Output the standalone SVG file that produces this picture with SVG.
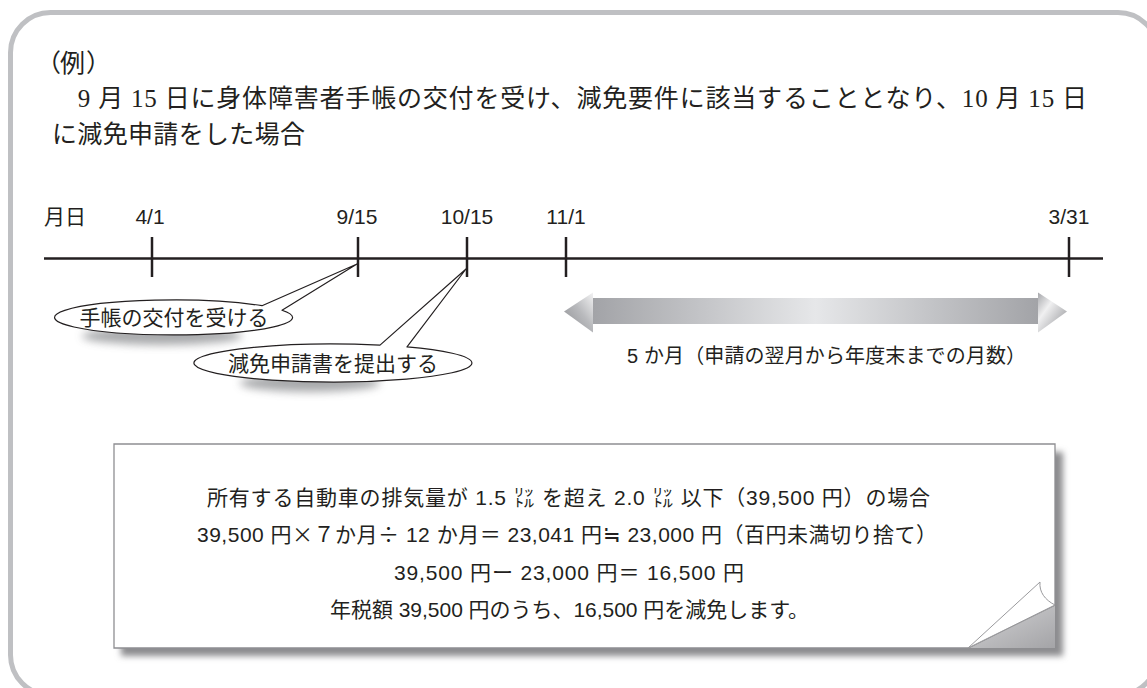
<svg xmlns="http://www.w3.org/2000/svg" width="1147" height="688" viewBox="0 0 1147 688">
<style>
.serif{font-family:"Liberation Serif","Noto Sans CJK JP",serif;font-size:25px;fill:#231f20}
.sans{font-family:"Liberation Sans","Noto Sans CJK JP",sans-serif;fill:#231f20}
.cjk{font-family:"Noto Sans CJK JP",sans-serif}
.tl{font-size:21px;text-anchor:middle}
.call{font-size:21px;text-anchor:middle}
.note{font-size:21px}
.axis{stroke:#231f20;stroke-width:2.5;fill:none}
.bubble{fill:#fff;stroke:#231f20;stroke-width:1.2;stroke-linejoin:round}
</style>
<defs>
<filter id="blur4" x="-20%" y="-50%" width="140%" height="200%"><feGaussianBlur stdDeviation="4"/></filter>
<filter id="blur3" x="-5%" y="-10%" width="110%" height="120%"><feGaussianBlur stdDeviation="3"/></filter>
<linearGradient id="barG" x1="0" y1="0" x2="1" y2="0">
<stop offset="0" stop-color="#a2a3a7"/>
<stop offset="0.5" stop-color="#e6e7e9"/>
<stop offset="1" stop-color="#a2a3a7"/>
</linearGradient>
<linearGradient id="headL" x1="1" y1="0" x2="0" y2="1">
<stop offset="0" stop-color="#f2f2f3"/>
<stop offset="0.45" stop-color="#b9babd"/>
<stop offset="1" stop-color="#8d8e92"/>
</linearGradient>
<linearGradient id="headR" x1="0" y1="0" x2="1" y2="1">
<stop offset="0" stop-color="#a6a7ab"/>
<stop offset="0.35" stop-color="#f0f0f1"/>
<stop offset="1" stop-color="#8d8e92"/>
</linearGradient>
<linearGradient id="foldG" x1="0" y1="0" x2="1" y2="1">
<stop offset="0" stop-color="#d4d4d6"/>
<stop offset="1" stop-color="#a4a4a7"/>
</linearGradient>
</defs>

<rect width="1147" height="688" fill="#fff"/>
<rect id="frame" x="10.5" y="12.5" width="1147.5" height="682.5" rx="40" fill="#fff" stroke="#bfc0c3" stroke-width="5"/>

<g id="intro">
<text class="serif" y="72"><tspan x="36">（</tspan><tspan x="60">例</tspan><tspan x="86">）</tspan></text>
<text class="serif" x="52" y="107" textLength="1035" lengthAdjust="spacing">　9 月 15 日に身体障害者手帳の交付を受け、減免要件に該当することとなり、10 月 15 日</text>
<text class="serif" x="52" y="143" textLength="253" lengthAdjust="spacing">に減免申請をした場合</text>
</g>

<g id="timeline">
<line class="axis" x1="44" y1="258.5" x2="1103" y2="258.5"/>
<line class="axis" x1="152" y1="237" x2="152" y2="277"/>
<line class="axis" x1="358" y1="237" x2="358" y2="277"/>
<line class="axis" x1="467" y1="237" x2="467" y2="277"/>
<line class="axis" x1="566" y1="237" x2="566" y2="277"/>
<line class="axis" x1="1069" y1="237" x2="1069" y2="277"/>
<text class="sans tl" x="65" y="224">月日</text>
<text class="sans tl" x="150" y="224">4/1</text>
<text class="sans tl" x="357" y="224">9/15</text>
<text class="sans tl" x="467" y="224">10/15</text>
<text class="sans tl" x="566" y="224">11/1</text>
<text class="sans tl" x="1069" y="224">3/31</text>
</g>

<g id="callout1">
<ellipse cx="162" cy="336" rx="80" ry="9" fill="#9a9b9e" opacity="0.85" filter="url(#blur4)"/>
<path class="bubble" d="M262,305.7 L357,264 L282,310.2 A119 17.5 0 1 1 262,305.7 Z"/>
<text class="sans call" x="174" y="325">手帳の交付を受ける</text>
</g>

<g id="callout2">
<ellipse cx="310" cy="383" rx="70" ry="9" fill="#9a9b9e" opacity="0.85" filter="url(#blur4)"/>
<path class="bubble" d="M380,345.1 L466,269 L407,346.9 A139 19 0 1 1 380,345.1 Z"/>
<text class="sans call" x="333" y="371">減免申請書を提出する</text>
</g>

<g id="period">
<rect x="592" y="298" width="447" height="26" fill="url(#barG)"/>
<polygon points="564,311.5 593,292.5 593,332.5" fill="url(#headL)"/>
<polygon points="1067,311.5 1038,292.5 1038,332.5" fill="url(#headR)"/>
<text class="sans" x="627" y="363" font-size="20" textLength="399" lengthAdjust="spacing">5 か月（申請の翌月から年度末までの月数）</text>
</g>

<g id="note">
<rect x="121" y="452" width="942" height="204" fill="#8c8c8f" filter="url(#blur3)"/>
<polygon points="968,648 1055,605 1055,648" fill="url(#foldG)"/>
<path d="M114,444 H1055 V605 L968,648 H114 Z" fill="#fff" stroke="#8f8f92" stroke-width="1.3"/>
<path d="M968,648 L1040,582 C1039,592 1045,600 1055,605 Z" fill="#fff" stroke="#9a9a9d" stroke-width="1"/>
<text class="sans note" x="207" y="505" textLength="723" lengthAdjust="spacing">所有する自動車の排気量が 1.5 ㍑ を超え 2.0 ㍑ 以下（39,500 円）の場合</text>
<text class="sans note" x="197" y="542" textLength="740" lengthAdjust="spacing">39,500 円<tspan class="cjk">×</tspan>７か月<tspan class="cjk">÷</tspan> 12 か月＝ 23,041 円<tspan class="cjk">≒</tspan> 23,000 円（百円未満切り捨て）</text>
<text class="sans note" x="394" y="580" textLength="350" lengthAdjust="spacing">39,500 円ー 23,000 円＝ 16,500 円</text>
<text class="sans note" x="330" y="617" textLength="479" lengthAdjust="spacing">年税額 39,500 円のうち、16,500 円を減免します。</text>
</g>
</svg>
